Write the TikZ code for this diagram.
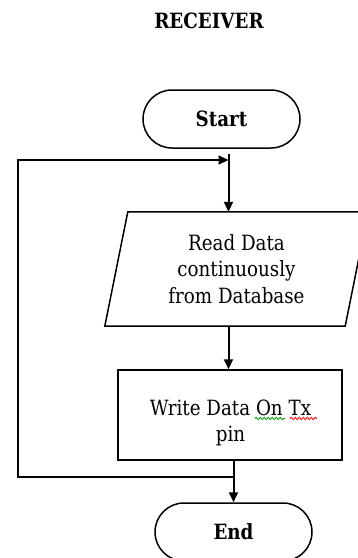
\documentclass[tikz,border=0pt]{standalone}
\usepackage{fontspec}
\setmainfont{DejaVu Serif}[FakeStretch=0.87]
\usetikzlibrary{arrows.meta,decorations.pathmorphing}

\begin{document}
\begin{tikzpicture}[x=1pt,y=-1pt,
  txt/.style={font=\fontsize{21}{26.5}\selectfont, align=center, inner sep=0pt},
  term/.style={draw, line width=1.5pt, rounded corners=29pt,
    minimum width=157pt, minimum height=58pt, inner sep=0pt,
    font=\bfseries\fontsize{21}{26.5}\selectfont},
  procbox/.style={draw, line width=1.5pt, minimum width=224pt, minimum height=90pt},
  flow/.style={line width=2pt, -{Triangle[length=10pt,width=9pt]}},
  squiggle/.style={line width=0.8pt, decorate,
    decoration={snake, amplitude=1.2pt, segment length=4pt}},
  ]
\useasboundingbox (0,0) rectangle (358,558);
\clip (0,0) rectangle (358,558);

% heading
\node[font=\bfseries\fontsize{21}{26.5}\selectfont, anchor=base] (title) at (209,28) {RECEIVER};

% terminals
\node[term] (start) at (221.5,119) {Start};
\node[term] (stop) at (233.5,532) {End};

% input/output step (parallelogram)
\node[txt, minimum width=240pt, minimum height=114pt] (read) at (236.5,269)
  {Read Data\\continuously\\from Database};
\draw[line width=1.5pt]
  ([xshift=11.5pt]read.north west) -- ([xshift=11.5pt]read.north east)
  -- ([xshift=-11.5pt]read.south east) -- ([xshift=-11.5pt]read.south west) -- cycle;

% process step
\node[procbox] (write) at (230,415) {};
\node[txt] (writetext) at (230.5,423) {Write Data On Tx\\pin};
\draw[squiggle, green!60!black] (255,418.5) -- (285,418.5);
\draw[squiggle, red] (290,418.5) -- (317,418.5);

% connectors
\coordinate (top) at (228.5,154);
\coordinate (join) at (233.5,477);
\coordinate (loopbot) at (18,477);
\coordinate (looptop) at (18,160);

\draw[flow] (top) -- (top |- read.north);
\draw[flow] (top |- read.south) -- (top |- write.north);
\draw[flow] (write.south -| stop.north) -- (stop.north);
\draw[flow] (join) -- (loopbot) -- (looptop) -- (top |- looptop);
\end{tikzpicture}
\end{document}
